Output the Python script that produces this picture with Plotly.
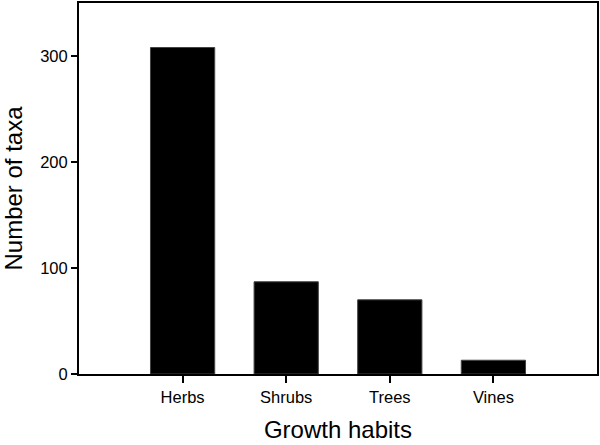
import plotly.graph_objects as go

categories = ["Herbs", "Shrubs", "Trees", "Vines"]
taxa_counts = [308, 87, 70, 13]
y_tick_values = [0, 100, 200, 300]

fig = go.Figure(
    go.Bar(
        x=categories,
        y=taxa_counts,
        width=0.62,
        marker=dict(color="black", line=dict(color="#444444", width=1)),
    )
)

font_family = "Liberation Sans, Arial, sans-serif"

fig.update_layout(
    width=600,
    height=445,
    margin=dict(l=79, r=3, t=1, b=71),
    paper_bgcolor="white",
    plot_bgcolor="white",
    showlegend=False,
    font=dict(family=font_family, color="black"),
)

fig.update_xaxes(
    range=[-1, 4],
    showline=True,
    mirror=True,
    linecolor="black",
    linewidth=2,
    ticks="outside",
    ticklen=7,
    tickwidth=2,
    tickcolor="black",
    showgrid=False,
    zeroline=False,
    tickfont=dict(size=16.5, family=font_family),
    title=dict(text="Growth habits", font=dict(size=24, family=font_family), standoff=16),
)

fig.update_yaxes(
    range=[0, 350],
    tickvals=y_tick_values,
    showline=True,
    mirror=True,
    linecolor="black",
    linewidth=2,
    ticks="outside",
    ticklen=6,
    tickwidth=2,
    tickcolor="black",
    showgrid=False,
    zeroline=False,
    tickfont=dict(size=16.5, family=font_family),
    title=dict(text="Number of taxa", font=dict(size=24, family=font_family), standoff=18),
)

fig.write_html(
    "out.html",
    config={"displayModeBar": False},
    post_script="document.body.style.margin='0';document.body.style.overflow='hidden';",
)
